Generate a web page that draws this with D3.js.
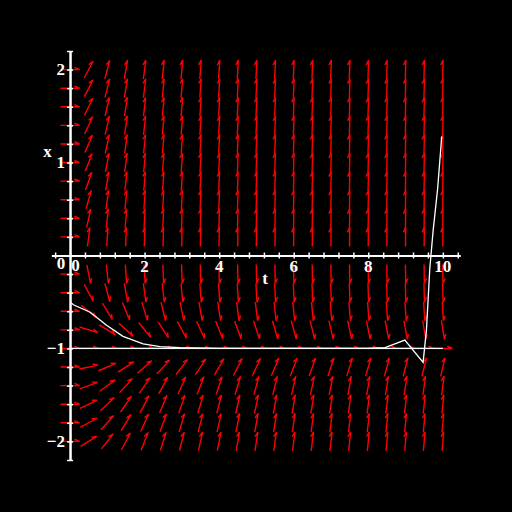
<!DOCTYPE html>
<html>
<head>
<meta charset="utf-8">
<script src="https://cdnjs.cloudflare.com/ajax/libs/d3/7.8.5/d3.min.js"></script>
<style>
  html, body { margin: 0; padding: 0; background: #000; }
  svg { display: block; }
  text { font-family: "Liberation Serif", "DejaVu Serif", serif; font-weight: bold; fill: #fff; }
</style>
</head>
<body>
<div id="chart"></div>
<script>
/* Direction field (red arrows) with two solution curves (white), t on the
   horizontal axis, x on the vertical one. */

// ---- data ------------------------------------------------------
// arrow grid: columns in t, rows in x (no arrows on the x = 0 row)
const tGrid = [0, 0.5, 1, 1.5, 2, 2.5, 3, 3.5, 4, 4.5, 5, 5.5, 6, 6.5, 7, 7.5, 8, 8.5, 9, 9.5, 10];
const xGrid = [2, 1.8, 1.6, 1.4, 1.2, 1, 0.8, 0.6, 0.4, 0.2,
               -0.2, -0.4, -0.6, -0.8, -1, -1.2, -1.4, -1.6, -1.8, -2];
// slope of each row's arrows per unit t (arrow slope = t * factor)
const rowSlopeFactor = [1.5, 1.56, 1.63, 1.71, 1.83, 2, 2.25, 2.67, 3.5, 6,
                        -4, -1.5, -0.67, -0.25, 0, 0.17, 0.29, 0.38, 0.44, 0.5];

// solution curve from x(0) = -0.5 (goes unstable near t = 9)
const sol1T = [0, 0.09, 0.54, 0.98, 1.42, 1.96, 2.41, 2.95, 4, 5, 6, 7, 7.95, 8.45, 8.98, 9.47, 9.56, 9.65, 9.74, 9.86, 9.97];
const sol1X = [-0.5, -0.53, -0.61, -0.75, -0.87, -0.95, -0.98, -0.99, -1, -1, -1, -1, -1, -0.99, -0.91, -1.15, -0.8, -0.14, 0.27, 0.72, 1.28];
// solution curve from x(0) = -1 (equilibrium)
const sol2T = [0, 10];
const sol2X = [-1, -1];

// axis ticks and labels
const tTicks = d3.range(-1, 27).map(i => +(i * 0.4).toFixed(1));
const xTicks = d3.range(-11, 12).map(i => +(i * 0.2).toFixed(1));
const tLabels = [2, 4, 6, 8, 10];
const xLabels = [2, 1, -1, -2];

(function () {
    "use strict";

    const W = 512, H = 512;
    const ARROW_LEN = 19, HEAD_BACK = 5, HEAD_SIDE = 2.2;

    const svg = d3.select("#chart").append("svg")
        .attr("width", W).attr("height", H);
    svg.append("rect").attr("width", W).attr("height", H).attr("fill", "#000");

    const tScale = d3.scaleLinear().domain([-0.5, 10.46]).range([51.4, 460]);
    const xScale = d3.scaleLinear().domain([-2.2, 2.2]).range([460, 51]);

    // ---- direction field ------------------------------------------
    const arrows = [];
    xGrid.forEach((x, i) => {
        tGrid.forEach(t => arrows.push({ t, x, s: t * rowSlopeFactor[i] }));
    });

    function arrowPath(d) {
        const cx = tScale(d.t), cy = xScale(d.x);
        const dx = tScale(d.t + 1) - tScale(d.t);
        const dy = xScale(d.s) - xScale(0);
        const n = Math.hypot(dx, dy);
        const ux = dx / n, uy = dy / n;
        const lx = uy, ly = -ux;              // left-hand side of the arrow
        const x0 = cx - ux * ARROW_LEN / 2, y0 = cy - uy * ARROW_LEN / 2;
        const x1 = cx + ux * ARROW_LEN / 2, y1 = cy + uy * ARROW_LEN / 2;
        const bx = x1 - ux * HEAD_BACK + lx * HEAD_SIDE;
        const by = y1 - uy * HEAD_BACK + ly * HEAD_SIDE;
        return `M${x0},${y0}L${x1},${y1}L${bx},${by}`;
    }

    svg.append("g")
        .selectAll("path")
        .data(arrows)
        .join("path")
        .attr("d", arrowPath)
        .attr("fill", "none")
        .attr("stroke", "#ff0000")
        .attr("stroke-width", 1.4);

    // ---- axes -------------------------------------------------------
    const yAxisPos = tScale(0), xAxisPos = xScale(0);

    function styleAxis(g) {
        g.selectAll(".domain").attr("stroke", "#fff").attr("stroke-width", 2);
        g.selectAll(".tick line").attr("stroke", "#fff").attr("stroke-width", 1.5);
        g.selectAll(".tick text").remove();
    }

    // ticks cross the axis: draw one side each with two axis generators
    [d3.axisBottom, d3.axisTop].forEach(ax => {
        svg.append("g")
            .attr("transform", `translate(0,${xAxisPos})`)
            .call(ax(tScale).tickValues(tTicks).tickSizeInner(3).tickSizeOuter(0).tickFormat(""))
            .call(styleAxis);
    });
    [d3.axisLeft, d3.axisRight].forEach(ax => {
        svg.append("g")
            .attr("transform", `translate(${yAxisPos},0)`)
            .call(ax(xScale).tickValues(xTicks).tickSizeInner(3).tickSizeOuter(0).tickFormat(""))
            .call(styleAxis);
    });

    // ---- labels -----------------------------------------------------
    const fmt = v => (v < 0 ? "\u2212" + Math.abs(v) : String(v));

    svg.append("g").selectAll("text")
        .data(tLabels)
        .join("text")
        .attr("x", d => tScale(d))
        .attr("y", xAxisPos + 16)
        .attr("text-anchor", "middle")
        .attr("font-size", 17)
        .text(fmt);

    svg.append("g").selectAll("text")
        .data(xLabels)
        .join("text")
        .attr("x", yAxisPos - 5)
        .attr("y", d => xScale(d) + 5.5)
        .attr("text-anchor", "end")
        .attr("font-size", 17)
        .text(fmt);

    // the two zeros at the origin
    svg.append("text").attr("x", yAxisPos - 9).attr("y", xAxisPos + 13)
        .attr("text-anchor", "middle").attr("font-size", 17).text("0");
    svg.append("text").attr("x", yAxisPos + 5.5).attr("y", xAxisPos + 15)
        .attr("text-anchor", "middle").attr("font-size", 17).text("0");

    svg.append("text").attr("x", 47.5).attr("y", 157)
        .attr("text-anchor", "middle").attr("font-size", 17).text("x");
    svg.append("text").attr("x", 265).attr("y", 284)
        .attr("text-anchor", "middle").attr("font-size", 17).text("t");

    // ---- solution curves -------------------------------------------
    const line = d3.line()
        .x(d => tScale(d[0]))
        .y(d => xScale(d[1]));

    [[sol2T, sol2X], [sol1T, sol1X]].forEach(([ts, xs]) => {
        svg.append("path")
            .datum(ts.map((t, i) => [t, xs[i]]))
            .attr("d", line)
            .attr("fill", "none")
            .attr("stroke", "#fff")
            .attr("stroke-width", 1.3);
    });
})();
</script>
</body>
</html>
